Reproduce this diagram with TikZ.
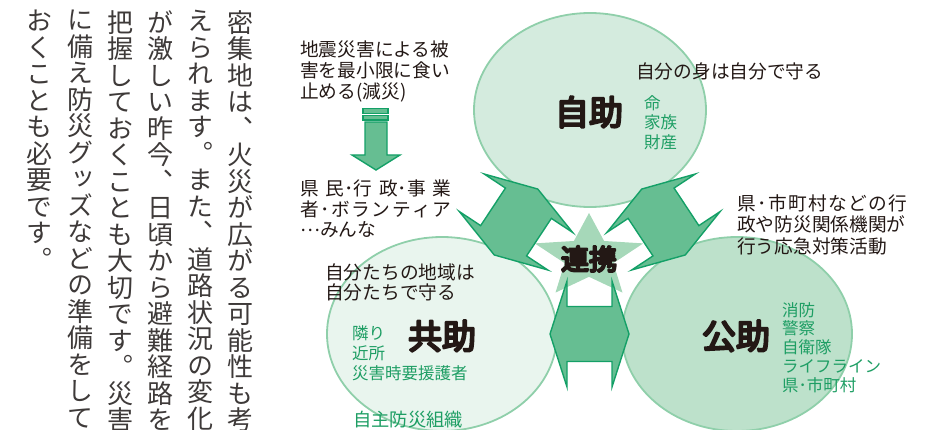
\documentclass[tikz,border=0pt]{standalone}
\usepackage{fontspec}
\newfontfamily\cjk{Noto Sans CJK JP}
\newfontfamily\tate[RawFeature={+vert}]{Noto Sans CJK JP}
\usetikzlibrary{shapes.geometric,calc}
\definecolor{circA}{HTML}{D4EBDE}
\definecolor{circB}{HTML}{E9F5EE}
\definecolor{circC}{HTML}{BDE1CB}
\definecolor{circline}{HTML}{8FCFAA}
\definecolor{starcol}{HTML}{A6D8B9}
\definecolor{arrfill}{HTML}{66BE92}
\definecolor{arrline}{HTML}{14A067}
\definecolor{greentxt}{HTML}{1E9E64}
\definecolor{inkdark}{HTML}{231815}
\definecolor{inkbody}{HTML}{3E3A39}
\newcommand{\heavytext}[1]{\special{pdf:literal direct 2 Tr 2.2 w 1 j}#1\special{pdf:literal direct 0 Tr}}
\lineskiplimit=-50pt
\tikzset{
  circ/.style={ellipse, draw=circline, line width=1.8pt, minimum width=232pt, minimum height=194pt, inner sep=0pt},
  arrowbody/.style={fill=arrfill, draw=arrline, line width=1.4pt},
  dblarrow/.pic={\path[arrowbody] (-39.5,0) -- (-22.5,53) -- (-22.5,27.5) -- (22.5,27.5) -- (22.5,53) -- (39.5,0) -- (22.5,-53) -- (22.5,-27.5) -- (-22.5,-27.5) -- (-22.5,-53) -- cycle;},
  tatecol/.style={font={\tate\fontsize{26}{26.5}\selectfont}, text=inkbody, align=center, inner sep=0pt, anchor=north},
  txt/.style={font={\cjk\fontsize{18.7}{21}\selectfont}, text=inkdark, align=left, inner sep=0pt, anchor=north west},
  greenlbl/.style={font={\cjk\fontsize{16.5}{19.5}\selectfont}, text=greentxt, align=left, inner sep=0pt, anchor=north west},
  heavy/.style={font={\cjk\fontsize{34}{34}\selectfont}, text=inkdark, inner sep=0pt}
}
\begin{document}
\begin{tikzpicture}[x=1pt,y=-1pt]
\lineskiplimit=-50pt
\useasboundingbox (0,0) rectangle (932,430);
\clip (0,0) rectangle (932,430);

% vertical body text
\node[tatecol] (c1) at (240,10) {密\\集\\地\\は\\、\\火\\災\\が\\広\\が\\る\\可\\能\\性\\も\\考};
\node[tatecol] (c2) at (200,10) {え\\ら\\れ\\ま\\す\\。\\ま\\た\\、\\道\\路\\状\\況\\の\\変\\化};
\node[tatecol] (c3) at (160,10) {が\\激\\し\\い\\昨\\今\\、\\日\\頃\\か\\ら\\避\\難\\経\\路\\を};
\node[tatecol] (c4) at (120,10) {把\\握\\し\\て\\お\\く\\こ\\と\\も\\大\\切\\で\\す\\。\\災\\害};
\node[tatecol] (c5) at (80,10) {に\\備\\え\\防\\災\\グ\\ッ\\ズ\\な\\ど\\の\\準\\備\\を\\し\\て};
\node[tatecol] (c6) at (40,10) {お\\く\\こ\\と\\も\\必\\要\\で\\す\\。};

% circles
\node[circ, fill=circA] (jijo) at (590,110) {};
\node[circ, fill=circB, minimum width=230pt] (kyojo) at (442,334) {};
\node[circ, fill=circC, minimum width=230pt] (kojo) at (737,334) {};

% star
\begin{scope}[shift={(589,257)}, x=57pt, y=44pt]
\fill[starcol] (90:1) -- (126:0.45) -- (162:1) -- (198:0.45) -- (234:1) -- (270:0.45) -- (306:1) -- (342:0.45) -- (18:1) -- (54:0.45) -- cycle;
\end{scope}

% double arrows between circles
\pic[rotate=56.55] at ($(kyojo.center)!0.5!(jijo.center)$) {dblarrow};
\pic[rotate=-56.55] at ($(jijo.center)!0.5!(kojo.center)$) {dblarrow};
\pic at ($(kyojo.center)!0.5!(kojo.center)$) {dblarrow};

\node[heavy, font={\cjk\fontsize{28}{28}\selectfont}] (renkei) at (589,259) {\heavytext{連携}};

% left text and down arrow
\node[txt] (gensai) at (300,41) {地震災害による被\\害を最小限に食い\\止める(減災)};
\path[arrowbody, line width=1.2pt] (363,108.5) rectangle (388,113.5);
\path[arrowbody, line width=1.2pt] (363,115.5) rectangle (388,120);
\path[arrowbody] (365,122) -- (387,122) -- (387,155) -- (400,155) -- (376,170) -- (352,155) -- (365,155) -- cycle;
\node[txt, font={\cjk\fontsize{18.7}{20.5}\selectfont}] (minna) at (300,180) {\makebox[151pt][s]{県\hfil 民･行\hfil 政･事\hfil 業}\\\makebox[151pt][s]{者\hfil ･\hfil ボ\hfil ラ\hfil ン\hfil テ\hfil ィ\hfil ア}\\\raisebox{0.3em}{…}みんな};

% jijo
\node[txt] (jijoq) at (636,63) {自分の身は自分で守る};
\node[heavy] (jijoT) at (589,112) {\heavytext{自助}};
\node[greenlbl] (jijoL) at (644,95) {命\\家族\\財産};

% kojo description
\node[txt, font={\cjk\fontsize{18.7}{21.5}\selectfont}] (kojoq) at (737,194) {\makebox[170pt][s]{県\hfil ･\hfil 市\hfil 町\hfil 村\hfil な\hfil ど\hfil の\hfil 行}\\政や防災関係機関が\\行う応急対策活動};

% kyojo
\node[txt, font={\cjk\fontsize{18.7}{20}\selectfont}] (kyojoq) at (325,264) {自分たちの地域は\\自分たちで守る};
\node[heavy] (kyojoT) at (442,336) {\heavytext{共助}};
\node[greenlbl, font={\cjk\fontsize{16.5}{20}\selectfont}] (kyojoL) at (352,325) {隣り\\近所\\災害時要援護者};
\node[greenlbl, font={\cjk\fontsize{18.3}{20}\selectfont}] (jishu) at (353,411) {自主防災組織};

% kojo
\node[heavy] (kojoT) at (736,336) {\heavytext{公助}};
\node[greenlbl, font={\cjk\fontsize{16.5}{18.8}\selectfont}] (kojoL) at (782,302) {消防\\警察\\自衛隊\\ライフライン\\県･市町村};
\end{tikzpicture}
\end{document}
